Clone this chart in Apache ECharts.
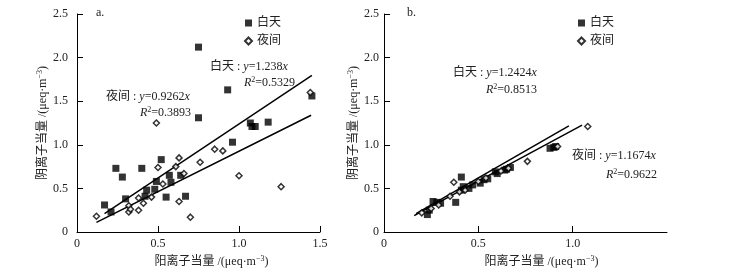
<!DOCTYPE html>
<html>
<head>
<meta charset="utf-8">
<script src="https://cdn.jsdelivr.net/npm/echarts@6/dist/echarts.min.js"></script>
<style>
  html, body { margin: 0; padding: 0; background: #fff; }
  #chart { width: 735px; height: 278px; }
</style>
</head>
<body>
<div id="chart"></div>
<script>
// a. 左图 散点 [阳离子, 阴离子]
var dayA = [[0.17,0.31],[0.21,0.23],[0.24,0.73],[0.28,0.63],[0.30,0.38],[0.40,0.73],[0.42,0.41],[0.43,0.48],
  [0.48,0.49],[0.49,0.58],[0.52,0.83],[0.55,0.40],[0.57,0.65],[0.58,0.57],[0.64,0.65],[0.67,0.41],
  [0.75,2.12],[0.75,1.31],[0.93,1.63],[0.96,1.03],[1.07,1.25],[1.08,1.21],[1.10,1.21],[1.18,1.26],[1.45,1.56]];
var nightA = [[0.12,0.18],[0.32,0.30],[0.32,0.23],[0.33,0.26],[0.38,0.25],[0.38,0.39],[0.41,0.33],[0.46,0.40],
  [0.49,1.25],[0.50,0.74],[0.53,0.55],[0.61,0.75],[0.63,0.85],[0.63,0.35],[0.66,0.67],[0.70,0.17],
  [0.76,0.80],[0.85,0.95],[0.90,0.93],[1.00,0.645],[1.26,0.52],[1.44,1.60]];
// b. 右图
var dayB = [[0.23,0.20],[0.24,0.25],[0.26,0.35],[0.28,0.34],[0.30,0.33],[0.38,0.34],[0.41,0.63],[0.41,0.48],
  [0.42,0.52],[0.45,0.50],[0.47,0.54],[0.51,0.56],[0.53,0.60],[0.55,0.61],[0.59,0.69],[0.60,0.67],
  [0.64,0.71],[0.65,0.72],[0.67,0.74],[0.88,0.96],[0.90,0.97],[0.91,0.98]];
var nightB = [[0.20,0.22],[0.25,0.27],[0.29,0.31],[0.35,0.41],[0.37,0.57],[0.40,0.46],[0.43,0.48],[0.50,0.58],
  [0.54,0.62],[0.62,0.70],[0.66,0.73],[0.76,0.81],[0.92,0.98],[1.08,1.21]];

// 拟合线: 斜率 + x范围
var slopeDayA = 1.238, rangeDayA = [0.17, 1.45];
var slopeNightA = 0.9262, rangeNightA = [0.12, 1.445];
var slopeDayB = 1.2424, rangeDayB = [0.17, 0.98];
var slopeNightB = 1.1674, rangeNightB = [0.16, 1.05];

var yTicks = ['0', '0.5', '1.0', '1.5', '2.0', '2.5'];
var xName = '阳离子当量 /(μeq·m{sup|−3})';
var yName = '阴离子当量 /(μeq·m{sup|−3})';

var font = '"Liberation Serif", "Noto Sans CJK SC", serif';
var black = '#000';

function fitLine(slope, range) {
  return range.map(function (x) { return [x, slope * x]; });
}

var chart = echarts.init(document.getElementById('chart'));

function xAxisCfg(idx, showMax, namePad) {
  return {
    gridIndex: idx, type: 'value', min: 0, max: 1.5, interval: 0.5,
    name: xName, nameLocation: 'middle', nameGap: 20,
    nameTextStyle: { color: '#222', fontSize: 12, fontFamily: font, padding: [0, 0, 0, namePad],
      rich: { sup: { fontSize: 8, verticalAlign: 'top', padding: [0, 0, 6, 0], fontFamily: font } } },
    axisLine: { lineStyle: { color: black, width: 1 } },
    axisTick: { inside: true, length: 6, lineStyle: { color: black } },
    axisLabel: { color: '#222', fontSize: 12, fontFamily: font, margin: 6, showMaxLabel: showMax,
      formatter: function (v) { return v === 0 ? '0' : v.toFixed(1); } },
    splitLine: { show: false }
  };
}
function yAxisCfg(idx, nameGap, labelMargin) {
  return {
    gridIndex: idx, type: 'value', min: 0, max: 2.5, interval: 0.5,
    name: yName, nameLocation: 'middle', nameGap: nameGap,
    nameTextStyle: { color: '#222', fontSize: 12, fontFamily: font,
      rich: { sup: { fontSize: 8, verticalAlign: 'top', padding: [0, 0, 6, 0], fontFamily: font } } },
    axisLine: { lineStyle: { color: black, width: 1 } },
    axisTick: { inside: true, length: 6, lineStyle: { color: black } },
    axisLabel: { color: '#222', fontSize: 12, fontFamily: font, margin: labelMargin,
      formatter: function (v) { return yTicks[Math.round(v / 0.5)]; } },
    splitLine: { show: false }
  };
}

function scatter(name, data, idx) {
  var isDay = name === '白天';
  return {
    name: name, type: 'scatter', xAxisIndex: idx, yAxisIndex: idx, data: data,
    symbol: isDay ? 'rect' : 'diamond',
    symbolSize: isDay ? 7 : 6,
    itemStyle: isDay ? { color: black } : { color: '#fff', borderColor: black, borderWidth: 1.5 },
    z: 3
  };
}
function line(name, data, idx) {
  return {
    name: name, type: 'line', xAxisIndex: idx, yAxisIndex: idx, data: data,
    showSymbol: false, silent: true,
    lineStyle: { color: black, width: 1.5 }, z: 2
  };
}

var rich = {
  i: { fontStyle: 'italic', fontFamily: font, fontSize: 12, fill: '#222' },
  sup: { fontFamily: font, fontSize: 8, verticalAlign: 'top', padding: [0, 0, 6, 0] }
};
function label(x, y, text) {
  return { type: 'text', left: x, top: y,
    style: { text: text, font: '12px ' + font, fill: '#222', rich: rich } };
}
function legendCfg(x) {
  return { data: ['白天', '夜间'], orient: 'vertical', left: x, top: 12, itemWidth: 7, itemHeight: 7, itemGap: 6,
    textStyle: { fontSize: 12, color: '#222', fontFamily: font } };
}

var option = {
  animation: false,
  backgroundColor: '#fff',
  textStyle: { fontFamily: font },
  grid: [
    { left: 77, right: 415, top: 14, bottom: 46 },
    { left: 384, right: 68, top: 14, bottom: 46 }
  ],
  legend: [legendCfg(239), legendCfg(572)],
  xAxis: [xAxisCfg(0, true, 26), xAxisCfg(1, false, 32)],
  yAxis: [yAxisCfg(0, 27, 9), yAxisCfg(1, 16, 5)],
  series: [
    scatter('白天', dayA, 0), scatter('夜间', nightA, 0),
    line('fitDayA', fitLine(slopeDayA, rangeDayA), 0), line('fitNightA', fitLine(slopeNightA, rangeNightA), 0),
    scatter('白天', dayB, 1), scatter('夜间', nightB, 1),
    line('fitDayB', fitLine(slopeDayB, rangeDayB), 1), line('fitNightB', fitLine(slopeNightB, rangeNightB), 1)
  ],
  graphic: [
    label(96, 7, 'a.'),
    label(210, 61, '白天 : {i|y}=1.238{i|x}'),
    label(244, 76, '{i|R}{sup|2}=0.5329'),
    label(106, 91, '夜间 : {i|y}=0.9262{i|x}'),
    label(140, 106, '{i|R}{sup|2}=0.3893'),
    label(407, 7, 'b.'),
    label(453, 67, '白天 : {i|y}=1.2424{i|x}'),
    label(486, 83, '{i|R}{sup|2}=0.8513'),
    label(572, 150, '夜间 : {i|y}=1.1674{i|x}'),
    label(606, 168, '{i|R}{sup|2}=0.9622')
  ]
};
chart.setOption(option);
window.addEventListener('resize', function () { chart.resize(); });
</script>
</body>
</html>
